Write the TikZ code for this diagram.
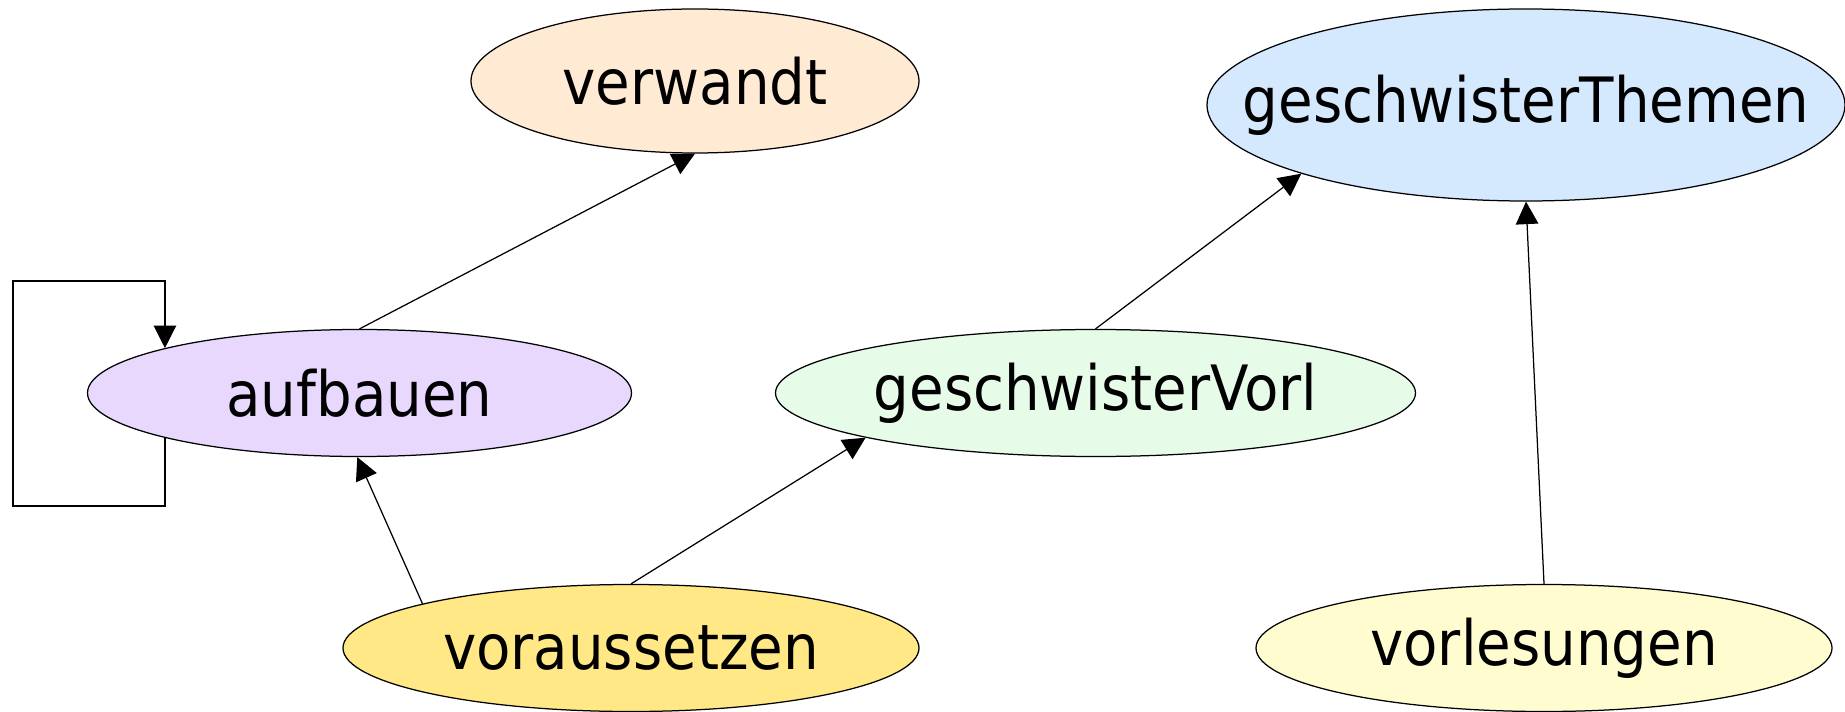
\documentclass[tikz,border=0pt]{standalone}
\usepackage{fontspec}
\newfontfamily\nodefont{DejaVu Sans Condensed}
\usepackage{xcolor}
\definecolor{ffead4}{HTML}{FFEAD4}
\definecolor{d4e8fe}{HTML}{D4E8FE}
\definecolor{e8d8fe}{HTML}{E8D8FE}
\definecolor{e6fce8}{HTML}{E6FCE8}
\definecolor{ffe885}{HTML}{FFE885}
\definecolor{fffdd0}{HTML}{FFFDD0}
\usepackage{tikz}
\usetikzlibrary{shapes.geometric}
\usetikzlibrary{arrows.meta}
\newcommand{\nlbl}[1]{\makebox[0pt]{#1}}

\begin{document}
\begin{tikzpicture}[x=0.4pt, y=-0.4pt,
            topic/.style={ellipse, draw, line width=0.5pt, inner sep=0pt,
                font=\nodefont\fontsize{25}{30}\selectfont},
            rel/.style={draw, line width=0.5pt, -{Triangle[length=9pt, width=9pt]}}]
            \useasboundingbox (0,0) rectangle (1845,712);

            \node (verwandt) at (695,81) [topic, fill=ffead4, minimum width=179.2pt, minimum height=57.6pt] {\nlbl{verwandt}};
            \node (geschwisterThemen) at (1526,105) [topic, fill=d4e8fe, minimum width=255.2pt, minimum height=76.8pt] {\nlbl{geschwisterThemen}};
            \node (aufbauen) at (359.5,393) [topic, fill=e8d8fe, minimum width=217.6pt, minimum height=50.8pt] {\nlbl{aufbauen}};
            \node (geschwisterVorl) at (1095.5,393) [topic, fill=e6fce8, minimum width=256pt, minimum height=50.8pt] {\nlbl{geschwisterVorl}};
            \node (voraussetzen) at (631,648) [topic, fill=ffe885, minimum width=230.4pt, minimum height=50.8pt] {\nlbl{voraussetzen}};
            \node (vorlesungen) at (1544,648) [topic, fill=fffdd0, minimum width=230.4pt, minimum height=50.8pt] {\nlbl{vorlesungen}};

            \coordinate (loopbl) at (13,506);
            \coordinate (looptl) at (13,281);

            \draw[rel] (aufbauen.north) -- (verwandt.south);
            \draw[rel] (aufbauen.193) |- (loopbl) -- (looptl) -| (aufbauen.167);
            \draw[rel] (voraussetzen.168) -- (aufbauen.268);
            \draw[rel] (voraussetzen.north) -- (geschwisterVorl.191.5);
            \draw[rel] (geschwisterVorl.north) -- (geschwisterThemen.197);
            \draw[rel] (vorlesungen.north) -- (geschwisterThemen.south);
        \end{tikzpicture}
\end{document}
